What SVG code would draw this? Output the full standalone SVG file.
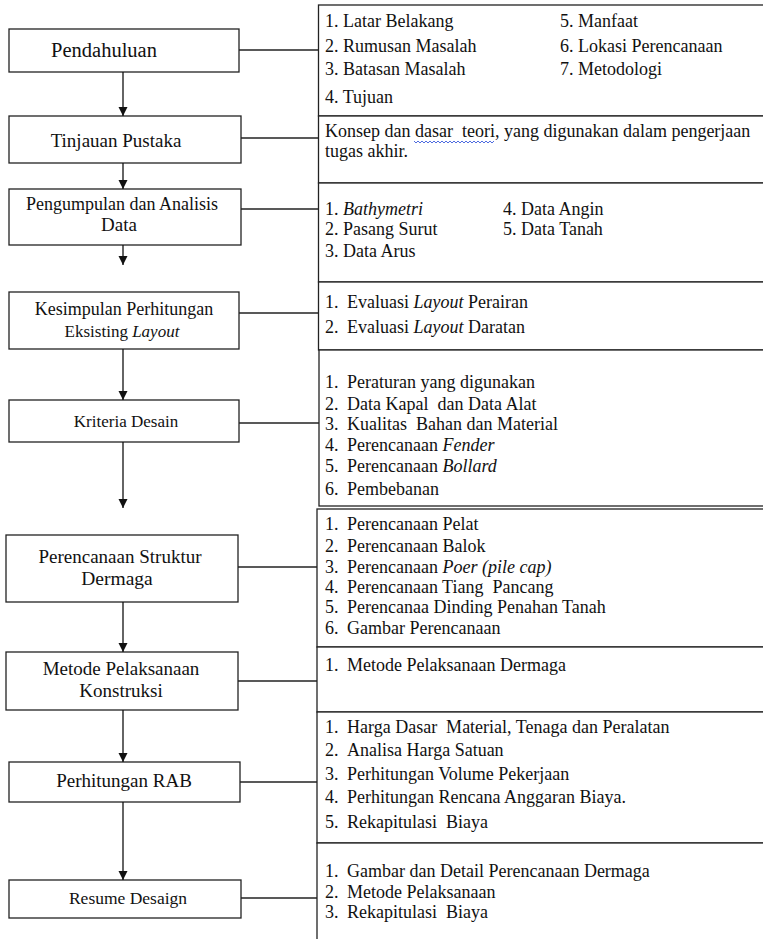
<svg xmlns="http://www.w3.org/2000/svg" width="763" height="939" viewBox="0 0 763 939">
<defs>
<marker id="ah" viewBox="0 0 10 10" refX="10" refY="5" markerWidth="9" markerHeight="10" markerUnits="userSpaceOnUse" orient="auto">
<path d="M0,0 L10,5 L0,10 z" fill="#111"/>
</marker>
<style>
.box{fill:#fff;stroke:#222;stroke-width:1.3}
.sec{fill:#fff;stroke:#222;stroke-width:1.3}
.lbl{font-family:'Liberation Serif',serif;font-size:18px;fill:#111;text-anchor:middle}
.itm{font-family:'Liberation Serif',serif;font-size:18px;fill:#111;white-space:pre}
.it{font-style:italic}
.con{fill:none;stroke:#222;stroke-width:1.3}
.arr{fill:none;stroke:#111;stroke-width:1.3;marker-end:url(#ah)}
</style>
</defs>
<rect width="763" height="939" fill="#fff"/>

<g id="pendahuluan">
<rect class="box" x="9" y="29" width="230" height="43"/>
<text class="lbl" x="104" y="57" style="font-size:20.5px">Pendahuluan</text>
</g>
<g id="tinjauan">
<rect class="box" x="9" y="116" width="232" height="47"/>
<text class="lbl" x="116" y="147" style="font-size:19px">Tinjauan Pustaka</text>
</g>
<g id="pengumpulan">
<rect class="box" x="9" y="189" width="232" height="56"/>
<text class="lbl" x="122" y="210">Pengumpulan dan Analisis</text>
<text class="lbl" x="119" y="231" style="font-size:19px">Data</text>
</g>
<g id="kesimpulan">
<rect class="box" x="9" y="292" width="230" height="57"/>
<text class="lbl" x="124" y="315">Kesimpulan Perhitungan</text>
<text class="lbl" x="122" y="337" style="font-size:17px">Eksisting <tspan class="it">Layout</tspan></text>
</g>
<g id="kriteria">
<rect class="box" x="9" y="400" width="230" height="42"/>
<text class="lbl" x="126" y="427" style="font-size:17px">Kriteria Desain</text>
</g>
<g id="struktur">
<rect class="box" x="6" y="535" width="232" height="67"/>
<text class="lbl" x="120" y="563" style="font-size:19px">Perencanaan Struktur</text>
<text class="lbl" x="117" y="585" style="font-size:19.5px">Dermaga</text>
</g>
<g id="metode">
<rect class="box" x="6" y="652" width="232" height="58"/>
<text class="lbl" x="121" y="675" style="font-size:19px">Metode Pelaksanaan</text>
<text class="lbl" x="121" y="697" style="font-size:19px">Konstruksi</text>
</g>
<g id="rab">
<rect class="box" x="9" y="762" width="231" height="40"/>
<text class="lbl" x="124" y="787" style="font-size:19px">Perhitungan RAB</text>
</g>
<g id="resume">
<rect class="box" x="9" y="880" width="232" height="38"/>
<text class="lbl" x="128" y="904" style="font-size:17.5px">Resume Desaign</text>
</g>

<g id="isi-pendahuluan">
<rect class="sec" x="318.5" y="5" width="460" height="111"/>
<text class="itm" x="325" y="27">1. Latar Belakang</text>
<text class="itm" x="325" y="52">2. Rumusan Masalah</text>
<text class="itm" x="325" y="75">3. Batasan Masalah</text>
<text class="itm" x="325" y="103">4. Tujuan</text>
<text class="itm" x="560" y="27">5. Manfaat</text>
<text class="itm" x="560" y="52">6. Lokasi Perencanaan</text>
<text class="itm" x="560" y="75">7. Metodologi</text>
</g>
<g id="isi-tinjauan">
<rect class="sec" x="318.5" y="116" width="460" height="67"/>
<text class="itm" x="325" y="137">Konsep dan dasar  teori, yang digunakan dalam pengerjaan</text>
<text class="itm" x="325" y="157">tugas akhir.</text>
<path d="M414,141 l2,2 l2,-2 l2,2 l2,-2 l2,2 l2,-2 l2,2 l2,-2 l2,2 l2,-2 l2,2 l2,-2 l2,2 l2,-2 l2,2 l2,-2 l2,2 l2,-2 l2,2 l2,-2 l2,2 l2,-2 l2,2 l2,-2 l2,2 l2,-2 l2,2 l2,-2 l2,2 l2,-2 l2,2 l2,-2 l2,2 l2,-2 l2,2 l2,-2 l2,2 l2,-2 l2,2 l2,-2" fill="none" stroke="#3b5bdb" stroke-width="0.9"/>
</g>
<g id="isi-data">
<rect class="sec" x="318.5" y="183" width="460" height="99"/>
<text class="itm" x="325" y="215">1. <tspan class="it">Bathymetri</tspan></text>
<text class="itm" x="325" y="235">2. Pasang Surut</text>
<text class="itm" x="325" y="257">3. Data Arus</text>
<text class="itm" x="503" y="215">4. Data Angin</text>
<text class="itm" x="503" y="235">5. Data Tanah</text>
</g>
<g id="isi-kesimpulan">
<rect class="sec" x="318.5" y="282" width="460" height="68"/>
<text class="itm" x="325" y="308">1.</text><text class="itm" x="347" y="308">Evaluasi <tspan class="it">Layout</tspan> Perairan</text>
<text class="itm" x="325" y="333">2.</text><text class="itm" x="347" y="333">Evaluasi <tspan class="it">Layout</tspan> Daratan</text>
</g>
<g id="isi-kriteria">
<rect class="sec" x="319" y="350" width="460" height="156"/>
<text class="itm" x="325" y="388">1.</text><text class="itm" x="347" y="388">Peraturan yang digunakan</text>
<text class="itm" x="325" y="410">2.</text><text class="itm" x="347" y="410">Data Kapal  dan Data Alat</text>
<text class="itm" x="325" y="430">3.</text><text class="itm" x="347" y="430">Kualitas  Bahan dan Material</text>
<text class="itm" x="325" y="451">4.</text><text class="itm" x="347" y="451">Perencanaan <tspan class="it">Fender</tspan></text>
<text class="itm" x="325" y="472">5.</text><text class="itm" x="347" y="472">Perencanaan <tspan class="it">Bollard</tspan></text>
<text class="itm" x="325" y="495">6.</text><text class="itm" x="347" y="495">Pembebanan</text>
</g>
<g id="isi-struktur">
<rect class="sec" x="317" y="509" width="460" height="138"/>
<text class="itm" x="325" y="530">1.</text><text class="itm" x="347" y="530">Perencanaan Pelat</text>
<text class="itm" x="325" y="552">2.</text><text class="itm" x="347" y="552">Perencanaan Balok</text>
<text class="itm" x="325" y="573">3.</text><text class="itm" x="347" y="573">Perencanaan <tspan class="it">Poer (pile cap)</tspan></text>
<text class="itm" x="325" y="593">4.</text><text class="itm" x="347" y="593">Perencanaan Tiang  Pancang</text>
<text class="itm" x="325" y="613">5.</text><text class="itm" x="347" y="613">Perencanaa Dinding Penahan Tanah</text>
<text class="itm" x="325" y="634">6.</text><text class="itm" x="347" y="634">Gambar Perencanaan</text>
</g>
<g id="isi-metode">
<rect class="sec" x="317" y="647" width="460" height="65"/>
<text class="itm" x="325" y="671">1.</text><text class="itm" x="347" y="671">Metode Pelaksanaan Dermaga</text>
</g>
<g id="isi-rab">
<rect class="sec" x="317" y="712" width="460" height="131"/>
<text class="itm" x="325" y="733">1.</text><text class="itm" x="347" y="733">Harga Dasar  Material, Tenaga dan Peralatan</text>
<text class="itm" x="325" y="756">2.</text><text class="itm" x="347" y="756">Analisa Harga Satuan</text>
<text class="itm" x="325" y="780">3.</text><text class="itm" x="347" y="780">Perhitungan Volume Pekerjaan</text>
<text class="itm" x="325" y="803">4.</text><text class="itm" x="347" y="803">Perhitungan Rencana Anggaran Biaya.</text>
<text class="itm" x="325" y="828">5.</text><text class="itm" x="347" y="828">Rekapitulasi  Biaya</text>
</g>
<g id="isi-resume">
<rect class="sec" x="317" y="843" width="460" height="110"/>
<text class="itm" x="325" y="877">1.</text><text class="itm" x="347" y="877">Gambar dan Detail Perencanaan Dermaga</text>
<text class="itm" x="325" y="898">2.</text><text class="itm" x="347" y="898">Metode Pelaksanaan</text>
<text class="itm" x="325" y="918">3.</text><text class="itm" x="347" y="918">Rekapitulasi  Biaya</text>
</g>

<g id="connectors">
<line class="arr" x1="123" y1="72" x2="123" y2="116"/>
<line class="arr" x1="123" y1="163" x2="123" y2="189"/>
<line class="arr" x1="123" y1="245" x2="123" y2="265"/>
<line class="arr" x1="123" y1="349" x2="123" y2="400"/>
<line class="arr" x1="123" y1="442" x2="123" y2="508"/>
<line class="arr" x1="123" y1="602" x2="123" y2="652"/>
<line class="arr" x1="123" y1="710" x2="123" y2="762"/>
<line class="arr" x1="123" y1="802" x2="123" y2="880"/>
<line class="con" x1="239" y1="50" x2="318.5" y2="50"/>
<line class="con" x1="241" y1="138" x2="318.5" y2="138"/>
<line class="con" x1="241" y1="209" x2="318.5" y2="209"/>
<line class="con" x1="239" y1="313" x2="318.5" y2="313"/>
<line class="con" x1="239" y1="423" x2="319" y2="423"/>
<line class="con" x1="238" y1="567" x2="317" y2="567"/>
<line class="con" x1="238" y1="681" x2="317" y2="681"/>
<line class="con" x1="240" y1="782" x2="317" y2="782"/>
<line class="con" x1="241" y1="898" x2="317" y2="898"/>
</g>
</svg>
